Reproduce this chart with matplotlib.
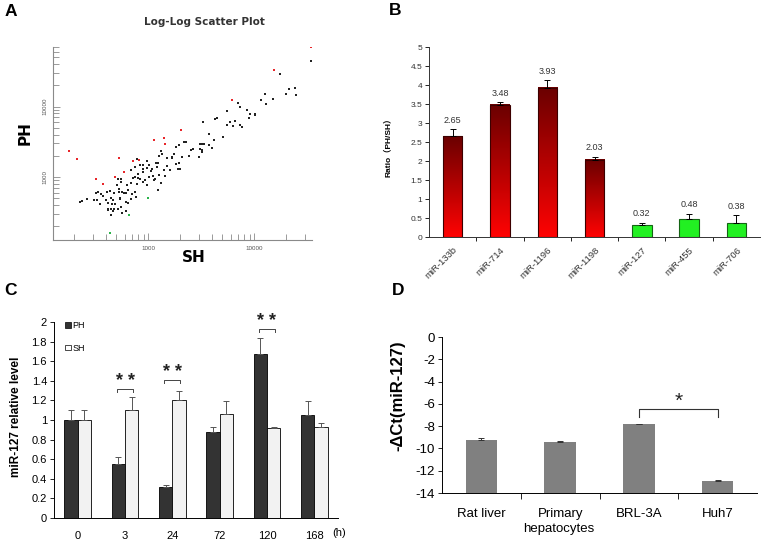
import numpy as np
import matplotlib
matplotlib.use("Agg")
import matplotlib.pyplot as plt
from matplotlib.ticker import LogLocator, FuncFormatter, NullFormatter, FixedLocator
from matplotlib.colors import LinearSegmentedColormap
from matplotlib.patches import Patch

plt.rcParams['font.family'] = ['Liberation Sans', 'Noto Sans CJK SC', 'DejaVu Sans']
plt.rcParams['axes.unicode_minus'] = False

# ---------------- Panel A data (SH, PH expression) ----------------
sh_red = [177, 210, 320, 370, 484, 524, 584, 711, 822, 1131, 1397, 1449, 2052, 6146, 15240, 33880]
ph_red = [2307, 1798, 937, 805, 1000, 1878, 1177, 1666, 1721, 3302, 3564, 2899, 4571, 12560, 32680, 70630]
sh_green = [434, 656, 993]
ph_green = [161, 290, 499]
sh_black = [33880, 17370, 21280, 24080, 19800, 24970, 12530, 11560, 15140, 12890, 6953, 7370, 8523, 5510,
            8968, 10070, 9164, 10220, 3291, 4467, 4276, 6609, 5510, 6237, 7262, 7643, 3752, 5015, 4121,
            3175, 3365, 3038, 3699, 4005, 2176, 2240, 1936, 2628, 3038, 3197, 2443, 2993, 1827, 1675,
            2083, 1675, 1827, 1951, 1980, 1895, 1502, 1328, 1262, 1243, 1182, 1199, 1417, 1337, 1603,
            1449, 1252, 1131, 1328, 1226, 1091, 1052, 1115, 964, 897, 834, 884, 978, 1007, 937, 964,
            897, 884, 804, 753, 776, 828, 787, 716, 685, 743, 706, 759, 647, 615, 584, 547, 555, 520,
            501, 528, 563, 477, 434, 406, 370, 336, 320, 354, 329, 310, 349, 261, 239, 227, 398, 443,
            467, 412, 456, 487, 540, 615, 637, 685, 551, 520, 477, 412, 443, 463, 418, 443, 567, 619,
            524, 540, 690, 748, 624, 804, 1015, 1156, 1502, 1750, 2535, 5926, 3175]
ph_black = [44290, 28980, 17980, 18570, 14950, 14460, 15100, 12290, 12840, 10910, 11390, 10000, 8872, 8777,
            6982, 7962, 7877, 7623, 6068, 6914, 6619, 6134, 5384, 5325, 5384, 5046, 4059, 3641, 3375,
            2963, 2899, 2899, 2806, 2602, 3128, 3094, 2806, 2463, 2463, 2283, 1982, 1940, 2630, 1919,
            1919, 1837, 1527, 1578, 1312, 1312, 1431, 2307, 1961, 1578, 1578, 1385, 1243, 2138, 1270,
            1033, 1056, 897, 822, 662, 1312, 1203, 1033, 1666, 1495, 1462, 1312, 1340, 1000, 897, 762,
            850, 1177, 968, 1385, 1817, 927, 788, 968, 822, 614, 581, 527, 648, 587, 587, 947, 850, 927,
            779, 684, 614, 600, 641, 614, 532, 607, 594, 569, 478, 468, 419, 483, 453, 443, 468, 494,
            478, 429, 419, 406, 483, 443, 429, 483, 376, 356, 352, 352, 345, 323, 338, 287, 303, 330,
            614, 504, 1243, 1000, 779, 1115, 1462, 947, 1858, 2138, 2437, 6002, 2437]

# ---------------- Panel B data ----------------
mirs = ['miR-133b', 'miR-714', 'miR-1196', 'miR-1198', 'miR-127', 'miR-455', 'miR-706']
ratio = [2.65, 3.48, 3.93, 2.03, 0.32, 0.48, 0.38]
ratio_err = [0.18, 0.07, 0.20, 0.08, 0.05, 0.13, 0.19]
ratio_up = [True, True, True, True, False, False, False]

# ---------------- Panel C data ----------------
hours = ['0', '3', '24', '72', '120', '168']
ph_level = [1.00, 0.55, 0.32, 0.88, 1.67, 1.05]
ph_err = [0.10, 0.07, 0.02, 0.05, 0.17, 0.14]
sh_level = [1.00, 1.10, 1.20, 1.06, 0.92, 0.93]
sh_err = [0.10, 0.13, 0.10, 0.13, 0.01, 0.04]
c_sig_groups = [1, 2, 4]
c_sig_heights = [1.32, 1.41, 1.93]

# ---------------- Panel D data ----------------
cells = ['Rat liver', 'Primary', 'BRL-3A', 'Huh7']
dct = [-9.25, -9.46, -7.84, -12.92]
dct_err = [0.15, 0.12, 0.05, 0.05]

fig = plt.figure(figsize=(7.65, 5.47), dpi=100)

# ================= Panel A =================
axA = fig.add_axes([0.0693, 0.5612, 0.3386, 0.3528])
axA.set_xscale('log')
axA.set_yscale('log')
axA.scatter(sh_black, ph_black, s=4, marker='s', color='#222222', linewidths=0)
axA.scatter(sh_red, ph_red, s=4, marker='s', color='#e8262a', linewidths=0)
axA.scatter(sh_green, ph_green, s=4, marker='s', color='#2ab34a', linewidths=0)
axA.set_xlim(126, 35000)
axA.set_ylim(127, 70000)
for sp in ['top', 'right']:
    axA.spines[sp].set_visible(False)
for sp in ['left', 'bottom']:
    axA.spines[sp].set_color('#8a8a8a')
    axA.spines[sp].set_linewidth(0.8)
fmt = FuncFormatter(lambda v, p: f'{v:.0f}')
for axis in (axA.xaxis, axA.yaxis):
    axis.set_major_locator(LogLocator(base=10))
    axis.set_minor_locator(LogLocator(base=10, subs=np.arange(2, 10)))
    axis.set_major_formatter(fmt)
    axis.set_minor_formatter(NullFormatter())
axA.tick_params(which='major', direction='in', length=5, width=0.6, color='#8a8a8a',
                labelsize=4.5, labelcolor='#555555', pad=4)
axA.tick_params(which='minor', direction='in', length=4, width=0.6, color='#8a8a8a')
axA.tick_params(axis='y', labelrotation=90)
for lab in axA.get_yticklabels():
    lab.set_va('center')
fig.text(0.267, 0.960, 'Log-Log Scatter Plot', ha='center', va='center', fontsize=7.5,
         fontweight='bold', color='#333333', family='DejaVu Sans')
fig.text(0.0327, 0.757, 'PH', rotation=90, ha='center', va='center', fontsize=11,
         fontweight='bold', family='DejaVu Sans')
fig.text(0.2536, 0.530, 'SH', ha='center', va='center', fontsize=11,
         fontweight='bold', family='DejaVu Sans')

# ================= Panel B =================
axB = fig.add_axes([0.5608, 0.5667, 0.4327, 0.3473])
w = 0.41
red_cmap = LinearSegmentedColormap.from_list('redgrad', ['#ff0303', '#6a0000'])
grad = np.linspace(0, 1, 256).reshape(-1, 1)
for i, (v, e, up) in enumerate(zip(ratio, ratio_err, ratio_up)):
    if up:
        axB.imshow(grad, cmap=red_cmap, origin='lower', aspect='auto',
                   extent=[i - w / 2, i + w / 2, 0, v], zorder=2, interpolation='bilinear')
        axB.bar(i, v, width=w, fill=False, edgecolor='#3c0000', linewidth=0.8, zorder=3)
    else:
        axB.bar(i, v, width=w, color='#22f022', edgecolor='#146414', linewidth=0.8, zorder=3)
    axB.errorbar(i, v, yerr=[[0], [e]], fmt='none', ecolor='black', elinewidth=0.7,
                 capsize=2.2, capthick=0.7, zorder=4)
    axB.text(i, v + e + 0.12, f'{v:.2f}', ha='center', va='bottom', fontsize=6.5, color='#333333')
axB.set_xlim(-0.5, 6.5)
axB.set_ylim(0, 5)
axB.set_yticks(np.arange(0, 5.01, 0.5))
axB.set_yticklabels(['0', '0.5', '1', '1.5', '2', '2.5', '3', '3.5', '4', '4.5', '5'])
axB.set_xticks(range(len(mirs)))
axB.set_xticklabels(mirs, rotation=45, ha='right', va='top', rotation_mode='anchor')
axB.xaxis.set_minor_locator(FixedLocator(np.arange(0.5, 6.0, 1.0)))
axB.tick_params(axis='x', which='major', length=0, labelsize=6.8, pad=6, labelcolor='#333333')
axB.tick_params(axis='x', which='minor', length=3, width=0.6, direction='out')
axB.tick_params(axis='y', length=3, width=0.6, labelsize=6, pad=2, labelcolor='#333333')
for sp in ['top', 'right']:
    axB.spines[sp].set_visible(False)
for sp in ['left', 'bottom']:
    axB.spines[sp].set_linewidth(0.7)
    axB.spines[sp].set_color('#333333')
fig.text(0.5072, 0.735, 'Ratio（PH/SH）', rotation=90, ha='center', va='center',
         fontsize=6, fontweight='bold')

# ================= Panel C =================
axC = fig.add_axes([0.0706, 0.053, 0.3712, 0.3583])
x = np.arange(len(hours))
bw = 0.28
axC.bar(x - bw / 2, ph_level, width=bw, color='#333333', edgecolor='black', linewidth=0.6,
        label='PH', zorder=2)
axC.bar(x + bw / 2, sh_level, width=bw, color='#f2f2f2', edgecolor='black', linewidth=0.6,
        label='SH', zorder=2)
axC.errorbar(x - bw / 2, ph_level, yerr=[np.zeros(len(x)), ph_err], fmt='none', ecolor='#555555',
             elinewidth=0.7, capsize=2, capthick=0.7, zorder=3)
axC.errorbar(x + bw / 2, sh_level, yerr=[np.zeros(len(x)), sh_err], fmt='none', ecolor='#555555',
             elinewidth=0.7, capsize=2, capthick=0.7, zorder=3)
for g, hgt in zip(c_sig_groups, c_sig_heights):
    axC.plot([g - 0.17, g - 0.17, g + 0.17, g + 0.17], [hgt - 0.035, hgt, hgt, hgt - 0.035],
             color='#444444', linewidth=0.7)
    axC.text(g, hgt - 0.01, '* *', ha='center', va='bottom', fontsize=13, color='#222222',
             fontweight='bold')
axC.set_xlim(-0.5, 5.5)
axC.set_ylim(0, 2)
axC.set_yticks(np.arange(0, 2.01, 0.2))
axC.set_yticklabels(['0', '0.2', '0.4', '0.6', '0.8', '1', '1.2', '1.4', '1.6', '1.8', '2'])
axC.set_xticks(x)
axC.set_xticklabels(hours)
axC.tick_params(axis='x', length=0, labelsize=8, pad=9)
axC.tick_params(axis='y', length=3, width=0.6, labelsize=8, pad=2)
for sp in ['top', 'right']:
    axC.spines[sp].set_visible(False)
for sp in ['left', 'bottom']:
    axC.spines[sp].set_linewidth(0.7)
axC.legend(handles=[Patch(facecolor='#333333', edgecolor='black', linewidth=0.5),
                    Patch(facecolor='white', edgecolor='black', linewidth=0.5)],
           labels=['PH', 'SH'], loc='upper left', bbox_to_anchor=(0.04, 1.005),
           frameon=False, fontsize=6.5, handlelength=0.6, handleheight=0.6,
           handletextpad=0.2, labelspacing=1.5, borderpad=0, borderaxespad=0)
fig.text(339 / 765, 1 - 533 / 547, '(h)', ha='center', va='center', fontsize=8)
fig.text(0.0209, 0.2377, 'miR-127 relative level', rotation=90, ha='center', va='center',
         fontsize=8.5, fontweight='bold')

# ================= Panel D =================
axD = fig.add_axes([0.5778, 0.0987, 0.4118, 0.2852])
xd = np.arange(len(cells))
base = -14
axD.bar(xd, np.array(dct) - base, bottom=base, width=0.4, color='#808080', zorder=2)
axD.errorbar(xd, dct, yerr=[np.zeros(len(xd)), dct_err], fmt='none', ecolor='#333333',
             elinewidth=0.7, capsize=2, capthick=0.7, zorder=3)
axD.plot([2, 2, 3, 3], [-7.15, -6.49, -6.49, -7.15], color='#333333', linewidth=0.8)
axD.text(2.5, -6.3, '*', ha='center', va='baseline', fontsize=15, color='#222222')
axD.set_xlim(-0.5, 3.5)
axD.set_ylim(-14, 0)
axD.set_yticks(np.arange(-14, 0.1, 2))
axD.set_yticklabels([str(t) for t in range(-14, 1, 2)])
axD.set_xticks(xd)
axD.set_xticklabels(cells)
axD.xaxis.set_minor_locator(FixedLocator([0.5, 1.5, 2.5]))
axD.tick_params(axis='x', which='major', length=0, labelsize=9.5, pad=11)
axD.tick_params(axis='x', which='minor', length=4, width=0.6, direction='out')
axD.tick_params(axis='y', length=3, width=0.6, labelsize=9.5, pad=2)
for sp in ['top', 'right']:
    axD.spines[sp].set_visible(False)
for sp in ['left', 'bottom']:
    axD.spines[sp].set_linewidth(0.7)
fig.text(559 / 765, 1 - 529 / 547, 'hepatocytes', ha='center', va='center', fontsize=9.5)
fig.text(0.520, 0.276, '-ΔCt(miR-127)', rotation=90, ha='center', va='center',
         fontsize=12, fontweight='bold')

# ================= Panel letters =================
for lx, ly, t in [(0.0055, 0.992, 'A'), (0.5085, 0.994, 'B'), (0.0055, 0.483, 'C'), (0.512, 0.483, 'D')]:
    fig.text(lx, ly, t, ha='left', va='top', fontsize=12.5, fontweight='bold')

fig.savefig('out.png', dpi=100)
